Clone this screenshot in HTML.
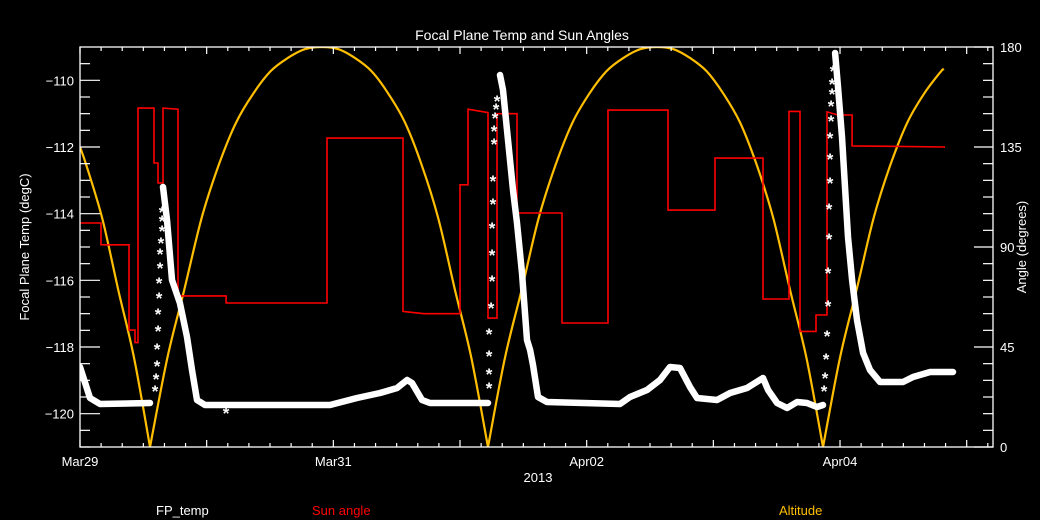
<!DOCTYPE html>
<html><head><meta charset="utf-8"><style>
html,body{margin:0;padding:0;background:#000;}
svg{display:block;font-family:"Liberation Sans",sans-serif;}
</style></head><body>
<svg id="chart" width="1040" height="520" viewBox="0 0 1040 520">
<defs><clipPath id="plotclip"><rect x="80" y="47" width="913" height="400"/></clipPath></defs>
<rect x="0" y="0" width="1040" height="520" fill="#000"/>
<text x="522" y="40" fill="#fff" font-size="14" text-anchor="middle">Focal Plane Temp and Sun Angles</text>
<g id="series" clip-path="url(#plotclip)"></g>
<g id="axes"></g>
<text x="538" y="482" fill="#fff" font-size="13" text-anchor="middle">2013</text>
<text transform="translate(29,247) rotate(-90)" fill="#fff" font-size="13" text-anchor="middle">Focal Plane Temp (degC)</text>
<text transform="translate(1026,247) rotate(-90)" fill="#fff" font-size="13" text-anchor="middle">Angle (degrees)</text>
<text x="156" y="515" fill="#fff" font-size="13">FP_temp</text>
<text x="312" y="515" fill="#ff0000" font-size="13">Sun angle</text>
<text x="779" y="515" fill="#ffbf00" font-size="13">Altitude</text>
</svg>
<script>
// x in days since Mar29 00:00
const xTickLabels = ["Mar29","Mar31","Apr02","Apr04"];
const xTickDays = [0,2,4,6];
const leftTicks = [-110,-112,-114,-116,-118,-120];
const rightTicks = [0,45,90,135,180];

const altT = [0,0.049,0.175,0.301,0.427,0.553,0.689,0.824,0.960,1.096,1.232,1.367,1.503,1.639,1.774,1.910,2.041,2.172,2.303,2.434,2.566,2.697,2.828,2.959,3.090,3.221,3.354,3.488,3.621,3.755,3.888,4.021,4.155,4.288,4.422,4.555,4.686,4.817,4.948,5.079,5.211,5.342,5.473,5.604,5.735,5.866,5.999,6.132,6.265,6.398,6.531,6.664,6.797,6.820];
const altV = [135,127,103,71,40,0,40,71,103,127,146,159,169,175,179,180,179,175,169,159,146,127,103,71,40,0,40,71,103,127,146,159,169,175,179,180,179,175,169,159,146,127,103,71,40,0,40,71,103,127,146,159,169,170];

const sunT = [0,0.166,0.166,0.387,0.387,0.434,0.434,0.458,0.458,0.584,0.584,0.616,0.616,0.655,0.655,0.774,0.774,1.153,1.153,1.950,1.950,2.550,2.550,2.716,3.000,3.000,3.063,3.063,3.221,3.221,3.292,3.292,3.450,3.450,3.805,3.805,4.168,4.168,4.642,4.642,5.013,5.013,5.392,5.392,5.597,5.597,5.684,5.684,5.810,5.810,5.897,5.897,5.984,6.095,6.095,6.829];
const sunV = [100.8,100.8,91,91,52.6,52.6,47,47,152.5,152.5,127.8,127.8,118.8,118.8,152.5,152,68,68,64.8,64.8,139,139,61,60,60,118,118,152,150.5,58,58,150,150,105.3,105.3,55.8,55.8,151.6,151.6,106.6,106.6,130,130,66.6,66.6,151,151,52,52,59.4,59.4,150.8,149.4,149.4,135.5,135];

const fpT = [0,0.079,0.158,0.553,0.655,0.687,0.726,0.789,0.845,0.884,0.924,0.987,1.974,2.187,2.368,2.503,2.582,2.621,2.700,2.763,3.221,3.316,3.339,3.379,3.418,3.450,3.489,3.529,3.553,3.576,3.616,3.687,4.263,4.342,4.476,4.579,4.658,4.737,4.816,4.871,5.029,5.132,5.266,5.392,5.432,5.503,5.582,5.661,5.739,5.818,5.866,5.961,5.984,6.016,6.039,6.063,6.095,6.134,6.182,6.237,6.316,6.497,6.576,6.711,6.892];
const fpV = [-118.6,-119.53,-119.71,-119.68,-113.2,-114.19,-115.99,-116.68,-117.7,-118.69,-119.59,-119.74,-119.74,-119.53,-119.38,-119.23,-118.99,-119.08,-119.59,-119.68,-119.68,-109.84,-110.29,-111.79,-113.29,-114.28,-115.78,-117.79,-118.09,-118.54,-119.5,-119.65,-119.71,-119.5,-119.29,-118.99,-118.6,-118.63,-119.2,-119.53,-119.59,-119.38,-119.23,-118.93,-119.29,-119.68,-119.83,-119.65,-119.68,-119.8,-119.74,-109.18,-110.2,-111.7,-113.2,-114.7,-115.99,-117.19,-118.18,-118.69,-119.05,-119.05,-118.9,-118.75,-118.75];
// times after which the dense band has a data gap (sparse rises shown as stars)
const fpGapAfter = [0.553,3.221,5.866];

const starT = [0.592,0.600,0.608,0.608,0.616,0.616,0.624,0.624,0.632,0.632,0.639,0.647,0.647,0.647,
3.229,3.229,3.229,3.229,3.245,3.253,3.253,3.253,3.260,3.260,3.268,3.268,3.276,3.284,3.292,
5.874,5.882,5.889,5.897,5.905,5.905,5.913,5.913,5.921,5.921,5.921,5.929,5.929,5.937,5.937,5.945,1.153];
const starV = [-119.29,-118.93,-118.54,-118.03,-117.49,-116.98,-116.5,-116.05,-115.6,-115.18,-114.85,-114.49,-114.19,-113.92,
-119.2,-118.78,-118.24,-117.58,-116.8,-115.99,-115.21,-114.4,-113.68,-112.99,-111.88,-111.49,-111.1,-110.83,-110.59,
-119.29,-118.9,-118.33,-117.64,-116.74,-115.75,-114.73,-113.83,-113.05,-112.33,-111.7,-111.19,-110.74,-110.38,-110.08,-109.69,-119.95];

const X0=80,X1=993,Y0=47,Y1=447,DAY=126.67;
function xS(t){return X0+t*DAY;}
function yL(T){return Y0+(-109-T)*(Y1-Y0)/12;}
function yR(a){return Y1-a*(Y1-Y0)/180;}
const NS="http://www.w3.org/2000/svg";
const axes=document.getElementById('axes'), series=document.getElementById('series');
function mk(tag,attrs,parent){const e=document.createElementNS(NS,tag);for(const k in attrs)e.setAttribute(k,attrs[k]);parent.appendChild(e);return e;}

// altitude: smooth curve, split at minima (sharp V)
function catmull(pts){
  let d='M'+pts[0][0].toFixed(1)+','+pts[0][1].toFixed(1);
  for(let i=0;i<pts.length-1;i++){
    const p0=pts[Math.max(0,i-1)],p1=pts[i],p2=pts[i+1],p3=pts[Math.min(pts.length-1,i+2)];
    const c1=[p1[0]+(p2[0]-p0[0])/6,p1[1]+(p2[1]-p0[1])/6];
    const c2=[p2[0]-(p3[0]-p1[0])/6,p2[1]-(p3[1]-p1[1])/6];
    d+=' C'+c1[0].toFixed(1)+','+c1[1].toFixed(1)+' '+c2[0].toFixed(1)+','+c2[1].toFixed(1)+' '+p2[0].toFixed(1)+','+p2[1].toFixed(1);
  }
  return d;
}
let altD='', seg=[];
altT.forEach((t,i)=>{
  seg.push([xS(t),yR(altV[i])]);
  if(altV[i]===0 || i===altT.length-1){ if(seg.length>1) altD+=catmull(seg)+' '; seg=[[xS(t),yR(altV[i])]]; }
});
const alt=mk('path',{d:altD,fill:'none',stroke:'#ffbf00','stroke-width':2.2},series);



const sun=mk('polyline',{points:sunT.map((t,i)=>xS(t).toFixed(1)+','+yR(sunV[i]).toFixed(1)).join(' '),fill:'none',stroke:'#ff0000','stroke-width':1.6},series);



let fpD='';
fpT.forEach((t,i)=>{
  const brk = i===0 || fpGapAfter.indexOf(fpT[i-1])>=0;
  fpD+=(brk?'M':'L')+xS(t).toFixed(1)+','+yL(fpV[i]).toFixed(1)+' ';
});
const fp=mk('path',{d:fpD,fill:'none',stroke:'#fff','stroke-width':6.5,'stroke-linejoin':'round','stroke-linecap':'round'},series);


starT.forEach((t,i)=>{
  const s=mk('text',{x:xS(t).toFixed(1),y:(yL(starV[i])+7).toFixed(1),fill:'#fff','font-size':17,'font-weight':'bold','text-anchor':'middle'},series);
  s.textContent='*';
  
  
});

// frame
const fr=mk('rect',{x:X0,y:Y0,width:X1-X0,height:Y1-Y0,fill:'none',stroke:'#fff','stroke-width':1.3},axes);


function ln(x1,y1,x2,y2){mk('line',{x1,y1,x2,y2,stroke:'#fff','stroke-width':1.2},axes);}
for(let k=0;X0+k*DAY/6<=X1+0.5;k++){
  const x=X0+k*DAY/6, major=(k%6===0);
  const L=major?7:4;
  ln(x,Y1,x,Y1-L); ln(x,Y0,x,Y0+L);
}
xTickDays.forEach((d,i)=>{
  const t=mk('text',{x:xS(d),y:466,fill:'#fff','font-size':13,'text-anchor':'middle'},axes);
  t.textContent=xTickLabels[i];
  
  
});
for(let v=-121;v<=-109.001;v+=0.5){
  const y=yL(v), major=Math.abs(v-Math.round(v/2)*2)<1e-6;
  ln(X0,y,X0+(major?20:10),y);
}
leftTicks.forEach(v=>{
  const t=mk('text',{x:74,y:yL(v)+5,fill:'#fff','font-size':13,'text-anchor':'end'},axes);
  t.textContent='\u2212'+Math.abs(v);
  
  
});
for(let a=0;a<=180.01;a+=7.5){
  const y=yR(a), major=(Math.abs(a%45)<1e-6);
  ln(X1,y,X1-(major?19:10),y);
}
rightTicks.forEach(a=>{
  const t=mk('text',{x:1000,y:yR(a)+5,fill:'#fff','font-size':13},axes);
  t.textContent=String(a);
  
  
});
</script>
</body></html>
